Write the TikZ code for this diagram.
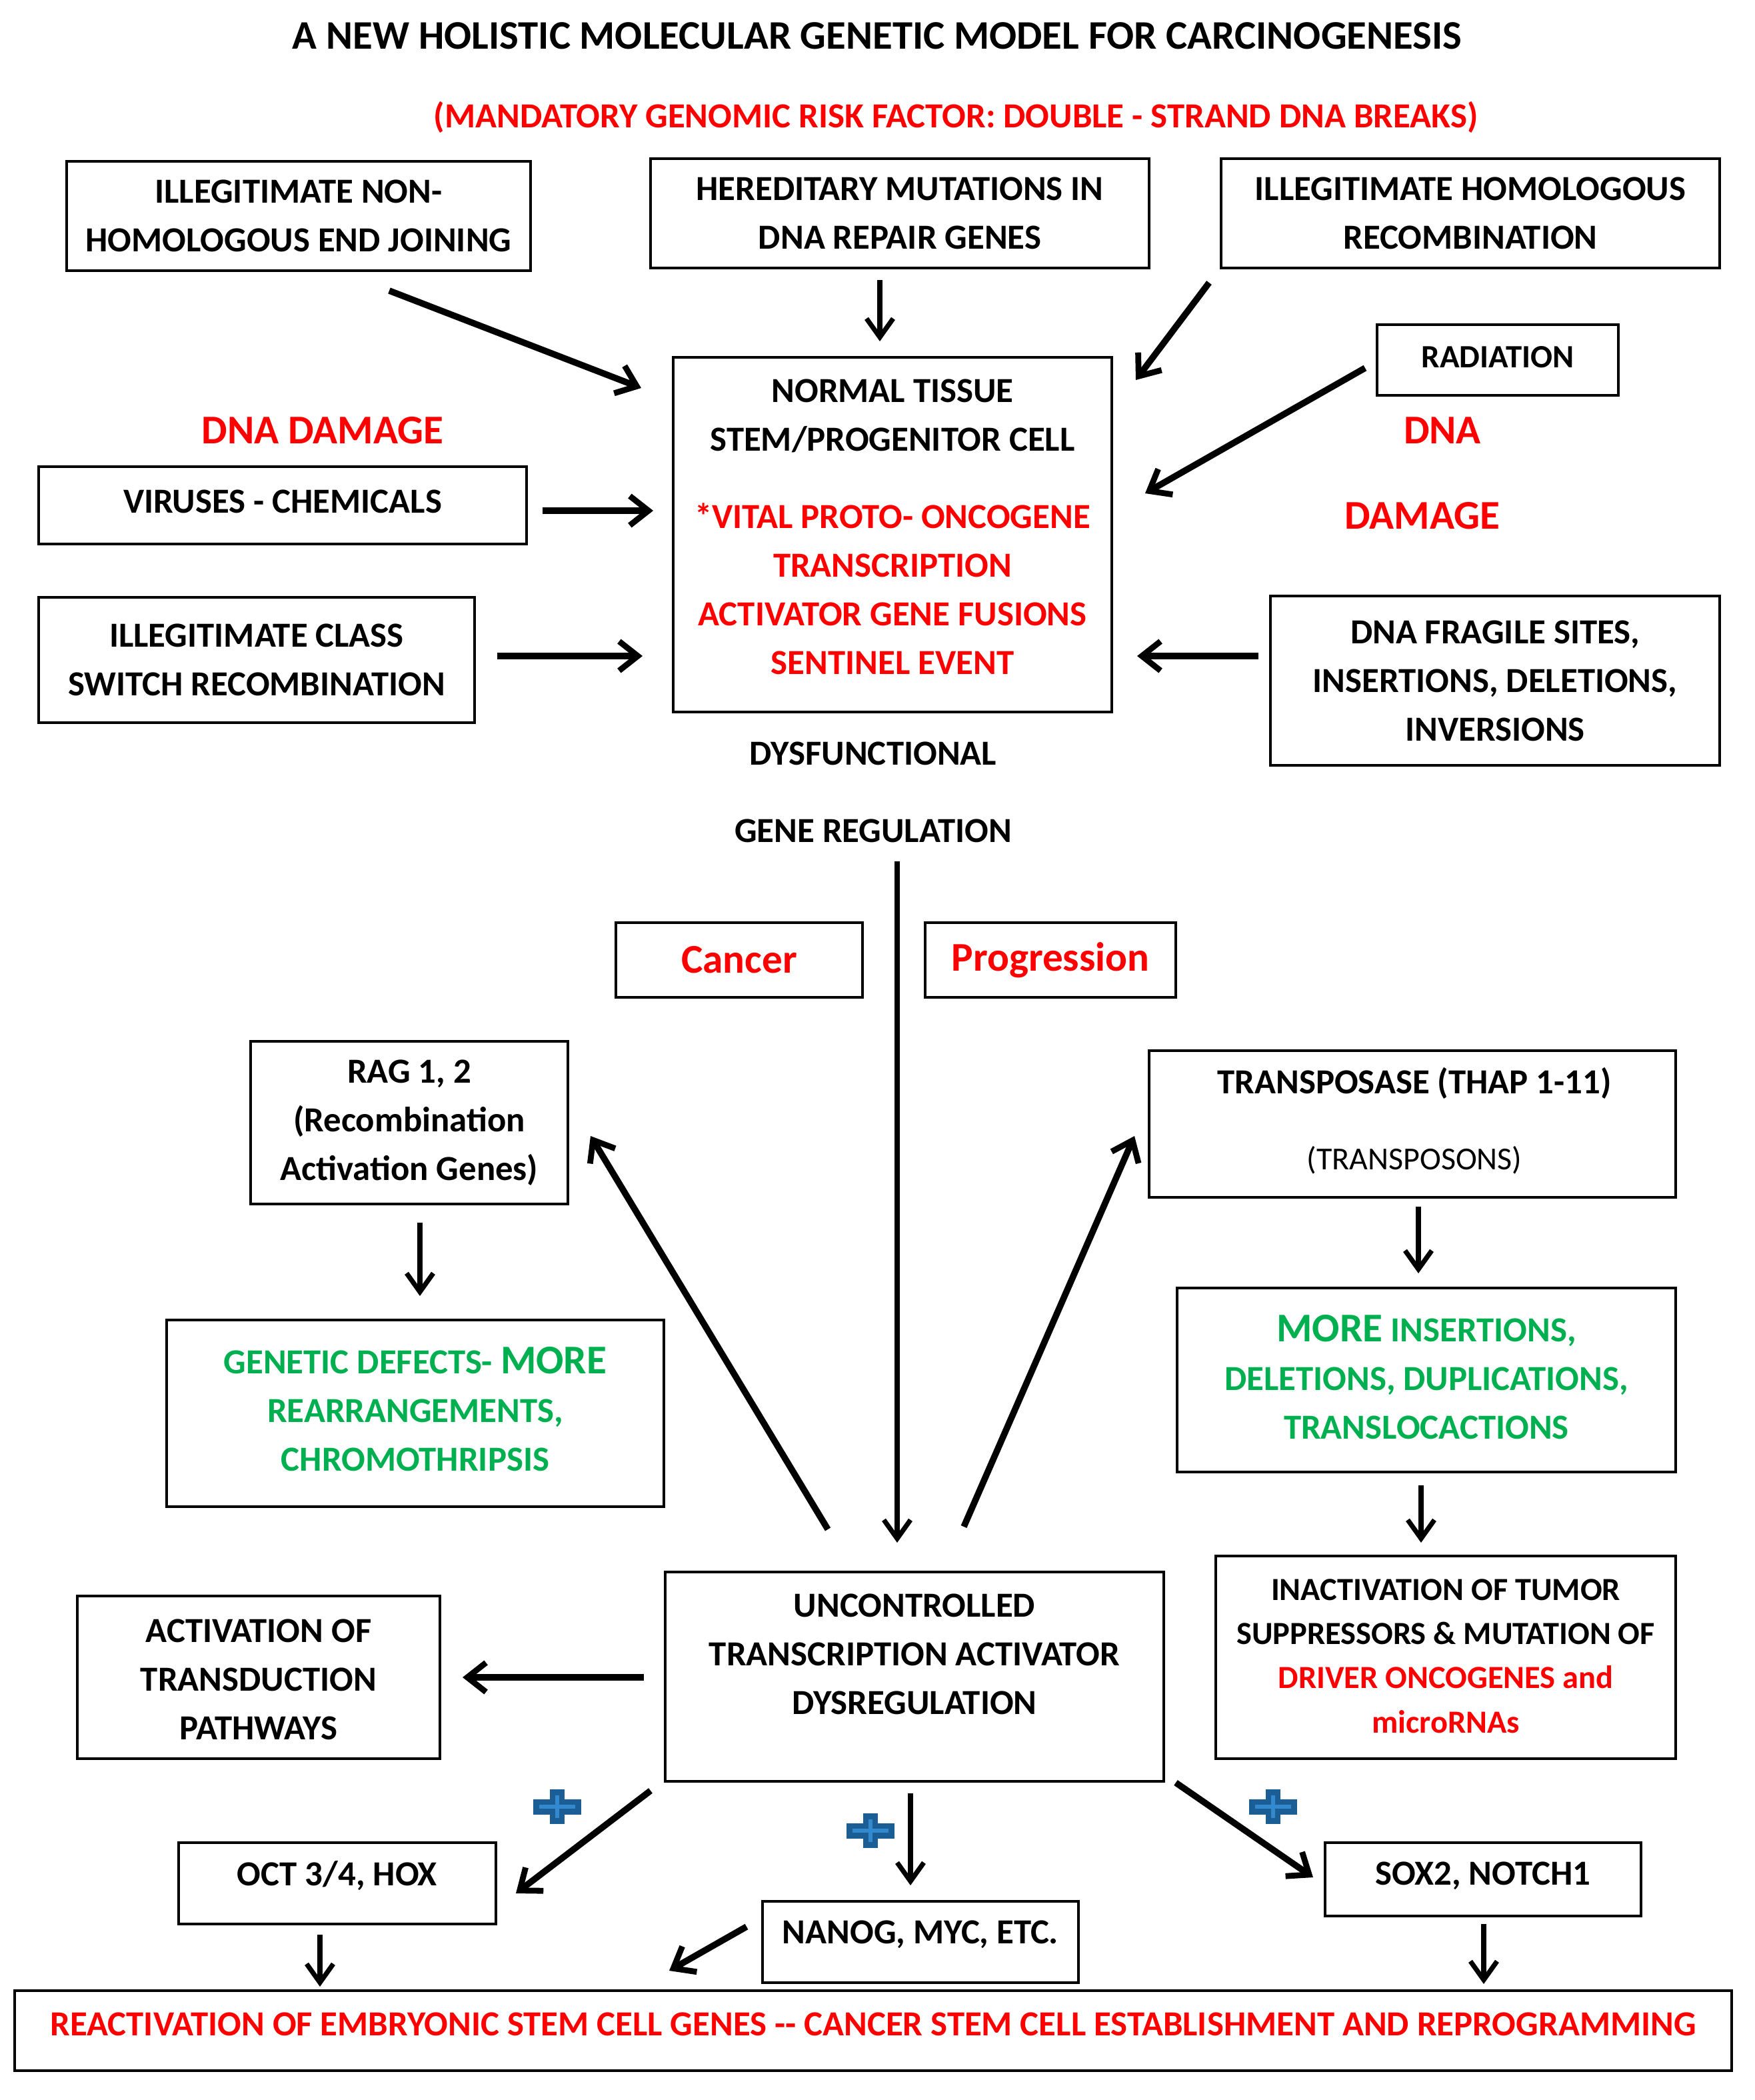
\documentclass[tikz,border=0pt]{standalone}
\usepackage{fontspec}
\setmainfont{Carlito}
\usetikzlibrary{arrows.meta}
\definecolor{myred}{RGB}{255,0,0}
\definecolor{mygreen}{RGB}{0,176,80}
\definecolor{plusdark}{RGB}{27,94,150}
\definecolor{pluslight}{RGB}{52,136,205}
\newcommand{\bxfont}{\fontsize{13.2}{18.25}\selectfont\bfseries}
\newcommand{\bigfont}{\fontsize{15.3}{18.25}\selectfont\bfseries}
\begin{document}
\begin{tikzpicture}[x=0.5pt,y=-0.5pt,
  box/.style={draw, line width=1pt, inner sep=0pt, align=center, font=\bxfont},
  lbl/.style={inner sep=0pt, align=center, font=\bxfont},
  thk/.style={line width=2.4pt, -{Straight Barb[length=7pt,width=11pt,line width=2.2pt]}},
  thn/.style={line width=1.8pt, -{Straight Barb[length=7pt,width=10pt,line width=1.8pt]}},
  plusicon/.pic={
    \fill[plusdark] (-18,-5.75) rectangle (18,5.75);
    \fill[plusdark] (-5.5,-13) rectangle (5.5,13);
    \draw[pluslight, line width=1.3pt] (-13.5,0) -- (13.5,0);
    \draw[pluslight, line width=1.3pt] (0,-8.5) -- (0,8.5);
  }]
\useasboundingbox (0,0) rectangle (1316.5,1575);
\fill[white] (0,0) rectangle (1316.5,1575);

% titles
\node[lbl, font=\fontsize{15.2}{18}\selectfont\bfseries] (title) at (658,27) {A NEW HOLISTIC MOLECULAR GENETIC MODEL FOR CARCINOGENESIS};
\node[lbl, font=\fontsize{13.2}{15}\selectfont\bfseries, text=myred] (subtitle) at (717,88) {(MANDATORY GENOMIC RISK FACTOR: DOUBLE - STRAND DNA BREAKS)};

% top boxes
\node[box, minimum width=174pt, minimum height=41pt] (nhej) at (224,162) {ILLEGITIMATE NON-\\HOMOLOGOUS END JOINING};
\node[box, minimum width=187pt, minimum height=41pt] (hered) at (675,160) {HEREDITARY MUTATIONS IN\\DNA REPAIR GENES};
\node[box, minimum width=187pt, minimum height=41pt] (homol) at (1103,160) {ILLEGITIMATE HOMOLOGOUS\\RECOMBINATION};
\node[box, minimum width=90.5pt, minimum height=26.5pt, font=\fontsize{12.2}{18.25}\selectfont\bfseries] (rad) at (1123.5,270) {};
\node[lbl, font=\fontsize{12.2}{18.25}\selectfont\bfseries] (radtxt) at (1123.5,268) {RADIATION};

% central box
\node[box, minimum width=164.5pt, minimum height=133pt] (center) at (669.5,401) {};
\node[lbl] (centertxt) at (669.5,395) {NORMAL TISSUE\\STEM/PROGENITOR CELL\\[10.75pt]
  \textcolor{myred}{*VITAL PROTO- ONCOGENE}\\\textcolor{myred}{TRANSCRIPTION}\\\textcolor{myred}{ACTIVATOR GENE FUSIONS}\\\textcolor{myred}{SENTINEL EVENT}};

\node[box, minimum width=183pt, minimum height=29pt] (virus) at (212,379) {};
\node[lbl] (virustxt) at (212,376) {VIRUSES - CHEMICALS};
\node[box, minimum width=163.5pt, minimum height=47pt] (classsw) at (192.5,495) {ILLEGITIMATE CLASS\\SWITCH RECOMBINATION};
\node[box, minimum width=168.5pt, minimum height=63.5pt] (fragile) at (1121.5,510.5) {DNA FRAGILE SITES,\\INSERTIONS, DELETIONS,\\INVERSIONS};

% red labels
\node[lbl, font=\bigfont, text=myred] (dnadamage) at (242,323) {DNA DAMAGE};
\node[lbl, font=\bigfont, text=myred] (dna) at (1082,323) {DNA};
\node[lbl, font=\bigfont, text=myred] (damage) at (1067,387) {DAMAGE};

\node[lbl] (dysf) at (655,565) {DYSFUNCTIONAL};
\node[lbl] (genereg) at (655,623) {GENE REGULATION};

\node[box, minimum width=92.5pt, minimum height=28pt, font=\bigfont, text=myred] (cancer) at (554.5,720) {Cancer};
\node[box, minimum width=94pt, minimum height=28pt, font=\bigfont, text=myred] (progress) at (788,720) {Progression};

\node[box, minimum width=119pt, minimum height=61pt] (rag) at (307,842) {RAG 1, 2\\(Recombination\\Activation Genes)};
\node[box, minimum width=197.5pt, minimum height=55pt] (transp) at (1059.5,843) {};
\node[lbl] (transptxt) at (1061,840.5) {TRANSPOSASE (THAP 1-11)\\[10.25pt]{\fontsize{12}{18.25}\selectfont\mdseries (TRANSPOSONS)}};

\node[box, minimum width=186.5pt, minimum height=70pt] (gendef) at (311.5,1060) {};
\node[lbl, text=mygreen] (gendeftxt) at (311.5,1057) {GENETIC DEFECTS- {\bigfont MORE}\\REARRANGEMENTS,\\CHROMOTHRIPSIS};
\node[box, minimum width=187pt, minimum height=69pt] (moreins) at (1070,1035) {};
\node[lbl, text=mygreen] (moreinstxt) at (1070,1033) {{\bigfont MORE} INSERTIONS,\\DELETIONS, DUPLICATIONS,\\TRANSLOCACTIONS};

\node[box, minimum width=172.5pt, minimum height=76pt] (inact) at (1084.5,1243) {};
\node[lbl, font=\fontsize{12.1}{16.6}\selectfont\bfseries] (inacttxt) at (1084.5,1242) {INACTIVATION OF TUMOR\\SUPPRESSORS \& MUTATION OF\\\textcolor{myred}{DRIVER ONCOGENES and}\\\textcolor{myred}{microRNAs}};

\node[box, minimum width=187pt, minimum height=78.5pt] (uncont) at (686,1257.5) {};
\node[lbl] (unconttxt) at (686,1240.5) {UNCONTROLLED\\TRANSCRIPTION ACTIVATOR\\DYSREGULATION};
\node[box, minimum width=136pt, minimum height=61pt] (activ) at (194,1258) {};
\node[lbl] (activtxt) at (194,1259.5) {ACTIVATION OF\\TRANSDUCTION\\PATHWAYS};

\node[box, minimum width=119pt, minimum height=30.5pt] (oct) at (253,1412.5) {};
\node[lbl] (octtxt) at (253,1407) {OCT 3/4, HOX};
\node[box, minimum width=118.5pt, minimum height=30.5pt] (nanog) at (690.5,1456.5) {};
\node[lbl] (nanogtxt) at (690.5,1451) {NANOG, MYC, ETC.};
\node[box, minimum width=118.5pt, minimum height=27.5pt] (sox) at (1112.5,1409.5) {};
\node[lbl] (soxtxt) at (1112.5,1407) {SOX2, NOTCH1};

\node[box, minimum width=644pt, minimum height=30pt] (bottom) at (655,1523) {};
\node[lbl, text=myred] (bottomtxt) at (655,1518) {REACTIVATION OF EMBRYONIC STEM CELL GENES -{}- CANCER STEM CELL ESTABLISHMENT AND REPROGRAMMING};

% arrow end points
\coordinate (a1s) at (292,218);  \coordinate (a1e) at (481,291);
\coordinate (a2s) at (660,210);  \coordinate (a2e) at (660,256);
\coordinate (a3s) at (907,212);  \coordinate (a3e) at (852,285);
\coordinate (a4s) at (1024,276); \coordinate (a4e) at (859,370);
\coordinate (a5s) at (407,383);  \coordinate (a5e) at (490,383);
\coordinate (a6s) at (373,492);  \coordinate (a6e) at (482,492);
\coordinate (a7s) at (944,492);  \coordinate (a7e) at (853,492);
\coordinate (a8s) at (673,646);  \coordinate (a8e) at (673,1157);
\coordinate (a9s) at (621,1147); \coordinate (a9e) at (443,852);
\coordinate (a10s) at (723,1145); \coordinate (a10e) at (851,852);
\coordinate (a11s) at (315,917); \coordinate (a11e) at (315,972);
\coordinate (a12s) at (1064,905); \coordinate (a12e) at (1064,955);
\coordinate (a13s) at (1066,1114); \coordinate (a13e) at (1066,1157);
\coordinate (a14s) at (483,1258); \coordinate (a14e) at (347,1258);
\coordinate (a15s) at (488,1343); \coordinate (a15e) at (387,1420);
\coordinate (a16s) at (683,1345); \coordinate (a16e) at (683,1414);
\coordinate (a17s) at (882,1337); \coordinate (a17e) at (985,1408);
\coordinate (a18s) at (240,1451); \coordinate (a18e) at (240,1490);
\coordinate (a19s) at (560,1445); \coordinate (a19e) at (502,1478);
\coordinate (a20s) at (1113,1443); \coordinate (a20e) at (1113,1488);

\draw[thk] (a1s) -- (a1e);
\draw[thn] (a2s) -- (a2e);
\draw[thk] (a3s) -- (a3e);
\draw[thk] (a4s) -- (a4e);
\draw[thk] (a5s) -- (a5e);
\draw[thk] (a6s) -- (a6e);
\draw[thk] (a7s) -- (a7e);
\draw[thn] (a8s) -- (a8e);
\draw[thk] (a9s) -- (a9e);
\draw[thk] (a10s) -- (a10e);
\draw[thn] (a11s) -- (a11e);
\draw[thn] (a12s) -- (a12e);
\draw[thn] (a13s) -- (a13e);
\draw[thk] (a14s) -- (a14e);
\draw[thk] (a15s) -- (a15e);
\draw[thn] (a16s) -- (a16e);
\draw[thk] (a17s) -- (a17e);
\draw[thn] (a18s) -- (a18e);
\draw[thk] (a19s) -- (a19e);
\draw[thn] (a20s) -- (a20e);

% plus icons
\pic (plus1) at (418,1355) {plusicon};
\pic (plus2) at (653,1373) {plusicon};
\pic (plus3) at (955,1355) {plusicon};
\end{tikzpicture}
\end{document}
